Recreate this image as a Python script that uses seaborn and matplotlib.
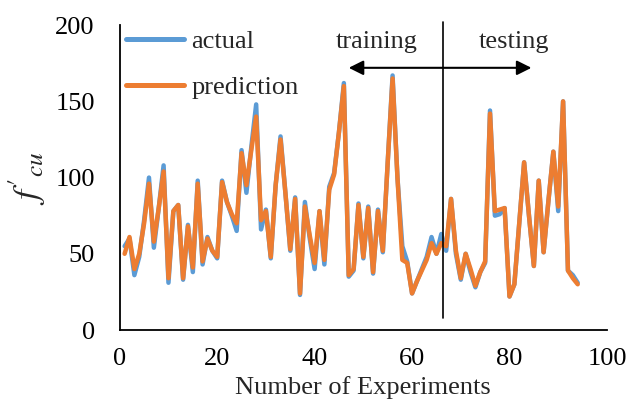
import numpy as np
import pandas as pd
import matplotlib
matplotlib.use("Agg")
import matplotlib.pyplot as plt
import seaborn as sns

experiments = list(range(1, 95))
actual = [55, 60, 36, 48, 72, 100, 54, 80, 108, 31,
          78, 82, 33, 69, 38, 98, 43, 61, 52, 47,
          98, 84, 75, 65, 118, 90, 120, 148, 66, 79,
          47, 95, 127, 90, 52, 87, 23, 84, 60, 40,
          78, 43, 94, 103, 130, 162, 35, 39, 83, 47,
          81, 37, 79, 51, 110, 167, 100, 55, 45, 24,
          32, 40, 48, 61, 50, 63, 52, 86, 50, 33,
          50, 38, 28, 38, 44, 144, 75, 76, 80, 22,
          30, 70, 110, 75, 42, 98, 51, 85, 117, 78,
          150, 39, 36, 31]
prediction = [50, 61, 40, 50, 70, 96, 58, 80, 104, 34,
              78, 82, 34, 68, 41, 96, 45, 60, 52, 48,
              97, 84, 76, 70, 116, 95, 118, 140, 72, 78,
              48, 95, 125, 90, 53, 86, 24, 81, 62, 44,
              78, 46, 92, 102, 130, 160, 36, 40, 82, 48,
              80, 38, 78, 52, 110, 165, 100, 46, 44, 24,
              32, 39, 46, 57, 50, 57, 55, 86, 52, 34,
              50, 40, 29, 38, 45, 142, 78, 79, 80, 22,
              30, 70, 110, 75, 42, 98, 51, 85, 117, 81,
              150, 39, 34, 30]
series_names = ["actual", "prediction"]
x_ticks = [0, 20, 40, 60, 80, 100]
y_ticks = [0, 50, 100, 150, 200]
split_at = 66.3

df = pd.DataFrame({
    "Experiment": experiments * 2,
    "value": actual + prediction,
    "series": [series_names[0]] * len(actual) + [series_names[1]] * len(prediction),
})

sns.set_theme(style="white")
plt.rcParams["font.family"] = ["Liberation Serif", "DejaVu Serif"]
plt.rcParams["mathtext.fontset"] = "stix"

FS = 19

fig = plt.figure(figsize=(6.27, 4.12), dpi=100)
ax = fig.add_axes([0.191, 0.199, 0.777, 0.740])

sns.lineplot(data=df, x="Experiment", y="value", hue="series",
             palette={"actual": "#5B9BD5", "prediction": "#ED7D31"},
             linewidth=3.2, ax=ax, legend=True, solid_capstyle="round",
             solid_joinstyle="round")

ax.set_xlim(0, 100)
ax.set_ylim(0, 200)
ax.set_xticks(x_ticks)
ax.set_yticks(y_ticks)
ax.tick_params(axis="both", length=0, labelsize=FS, colors="black")
ax.tick_params(axis="y", pad=18)
ax.tick_params(axis="x", pad=13)
ax.set_xlabel("Number of Experiments", fontsize=FS, labelpad=4)
ax.set_ylabel(r"$f'_{cu}$", fontsize=26, labelpad=5)
for s in ["top", "right"]:
    ax.spines[s].set_visible(False)
for s in ["left", "bottom"]:
    ax.spines[s].set_color("black")
    ax.spines[s].set_linewidth(1.3)

# split line and annotations
ax.plot([split_at, split_at], [8, 202], color="black", lw=1.2, clip_on=False)
ax.annotate("", xy=(47.0, 172), xytext=(84.5, 172),
            arrowprops=dict(arrowstyle="<|-|>", color="black", lw=1.5,
                            mutation_scale=22, shrinkA=0, shrinkB=0))
ax.text(52.7, 189, "training", fontsize=FS, ha="center", va="center")
ax.text(81.0, 189, "testing", fontsize=FS, ha="center", va="center")

leg = ax.legend(loc="upper left", bbox_to_anchor=(0.012, 0.985), frameon=False,
                fontsize=FS, handlelength=2.2, handletextpad=0.3,
                labelspacing=0.85, borderaxespad=0.0, borderpad=0.0)
for line in leg.get_lines():
    line.set_linewidth(3.6)

fig.savefig("out.png", dpi=100)
